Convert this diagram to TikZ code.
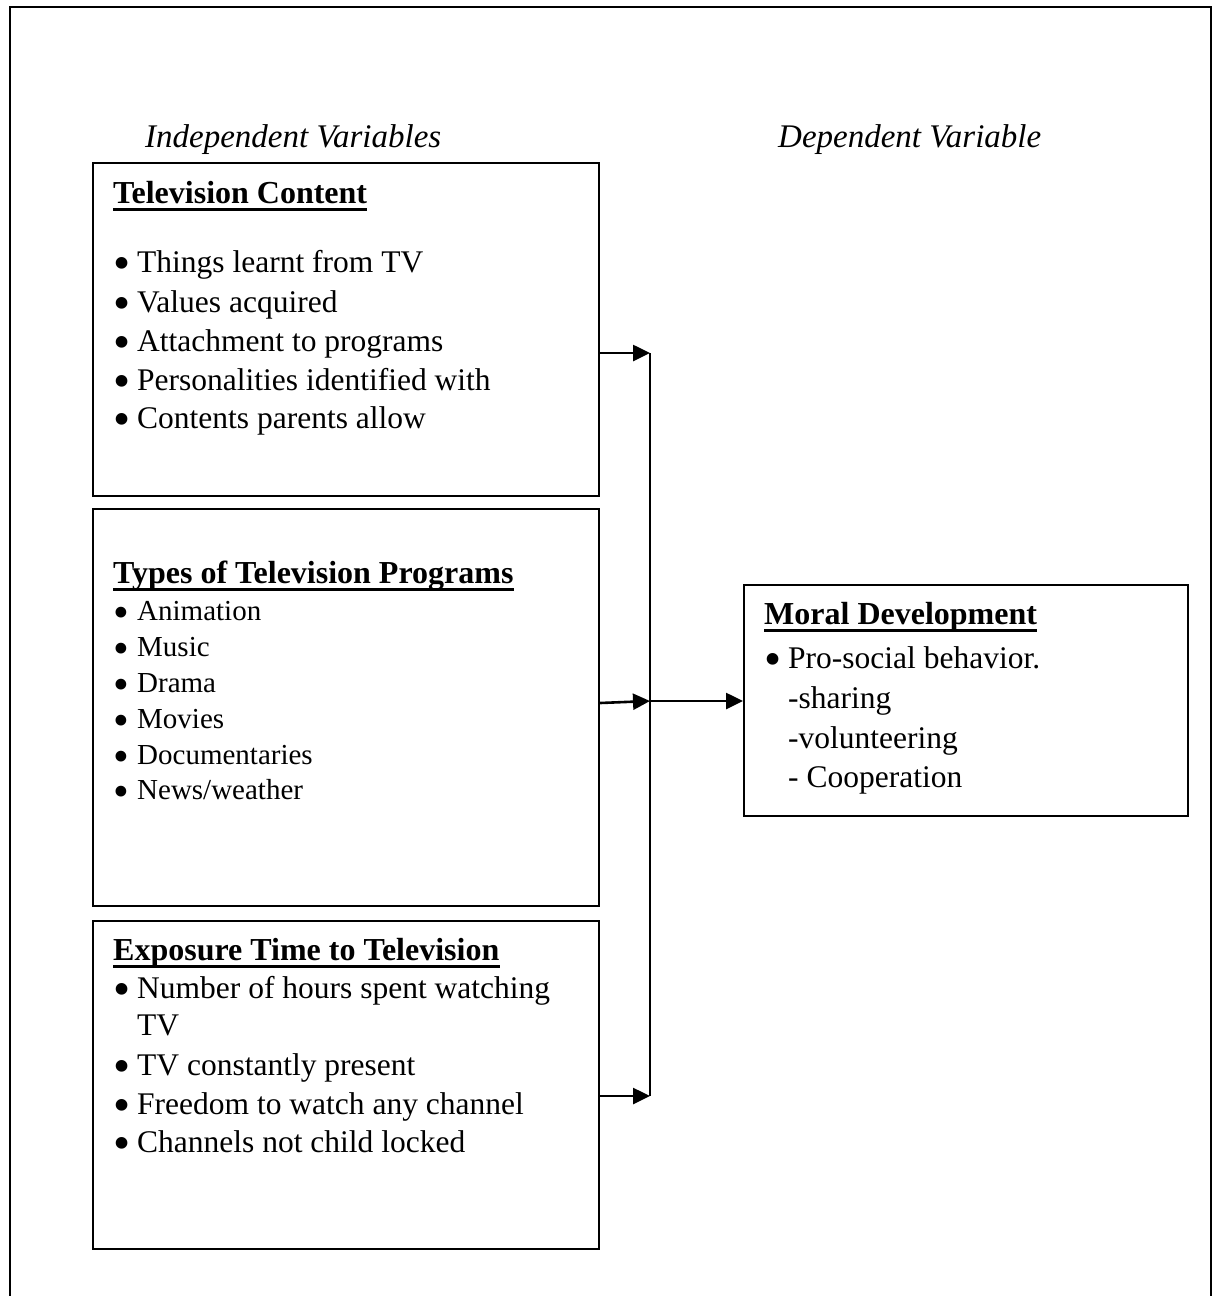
\documentclass[tikz,border=0pt]{standalone}
\usepackage{fontspec}
\setmainfont{Liberation Serif}
\usetikzlibrary{arrows.meta}
\newcommand{\bul}{\makebox[24pt][l]{\smash{\raisebox{-7.5pt}{\scalebox{1.55}{•}}}}}
\begin{document}
\begin{tikzpicture}[x=1pt,y=-1pt,
  box/.style={draw, line width=2.2pt, rectangle, inner sep=0, anchor=north west},
  txt/.style={anchor=base west, inner sep=0, font=\fontsize{31.5}{36}\selectfont},
  smalltxt/.style={anchor=base west, inner sep=0, font=\fontsize{29}{34}\selectfont},
  head/.style={anchor=base west, inner sep=0, font=\fontsize{32}{38}\selectfont\bfseries},
  var/.style={anchor=base west, inner sep=0, font=\fontsize{33}{38}\selectfont\itshape},
  uline/.style={line width=2.8pt},
  conn/.style={line width=2.4pt},
  arr/.style={line width=2.6pt, -{Triangle[length=17pt,width=16pt]}},
]
\useasboundingbox (0,0) rectangle (1217,1296);
% outer frame
\draw[line width=2.4pt] (10,1310) -- (10,7) -- (1211,7) -- (1211,1310);

% headers
\node[var] (iv) at (145,147) {Independent Variables};
\node[var] (dv) at (778,147) {Dependent Variable};

% boxes
\node[box, minimum width=506pt, minimum height=333pt] (b1) at (92,162) {};
\node[box, minimum width=506pt, minimum height=397pt] (b2) at (92,508) {};
\node[box, minimum width=506pt, minimum height=328pt] (b3) at (92,920) {};
\node[box, minimum width=444pt, minimum height=231pt] (bm) at (743,584) {};

% box 1
\node[head] (h1) at (113,203) {Television Content};
\draw[uline] ([yshift=-6.5pt]h1.base west) -- ([yshift=-6.5pt]h1.base east);
\node[txt] (t1a) at (113,272) {\bul Things learnt from TV};
\node[txt] (t1b) at (113,312) {\bul Values acquired};
\node[txt] (t1c) at (113,351) {\bul Attachment to programs};
\node[txt] (t1d) at (113,390) {\bul Personalities identified with};
\node[txt] (t1e) at (113,428) {\bul Contents parents allow};

% box 2
\node[head] (h2) at (113,583) {Types of Television Programs};
\draw[uline] ([yshift=-6.5pt]h2.base west) -- ([yshift=-6.5pt]h2.base east);
\node[smalltxt] (t2a) at (113,620) {\bul Animation};
\node[smalltxt] (t2b) at (113,656) {\bul Music};
\node[smalltxt] (t2c) at (113,692) {\bul Drama};
\node[smalltxt] (t2d) at (113,728) {\bul Movies};
\node[smalltxt] (t2e) at (113,764) {\bul Documentaries};
\node[smalltxt] (t2f) at (113,799) {\bul News/weather};

% box 3
\node[head] (h3) at (113,960) {Exposure Time to Television};
\draw[uline] ([yshift=-6.5pt]h3.base west) -- ([yshift=-6.5pt]h3.base east);
\node[txt] (t3a) at (113,998) {\bul Number of hours spent watching};
\node[txt] (t3b) at (137,1035) {TV};
\node[txt] (t3c) at (113,1075) {\bul TV constantly present};
\node[txt] (t3d) at (113,1114) {\bul Freedom to watch any channel};
\node[txt] (t3e) at (113,1152) {\bul Channels not child locked};

% moral box
\node[head] (hm) at (764,624) {Moral Development};
\draw[uline] ([yshift=-6.5pt]hm.base west) -- ([yshift=-6.5pt]hm.base east);
\node[txt] (tma) at (764,668) {\bul Pro-social behavior.};
\node[txt] (tmb) at (788,708) {-sharing};
\node[txt] (tmc) at (788,748) {-volunteering};
\node[txt] (tmd) at (788,787) {- Cooperation};

% connectors
\coordinate (j1) at (650,353);
\coordinate (j2) at (650,701);
\coordinate (j3) at (650,1096);
\draw[conn] (j1) -- (j3);
\draw[arr] (b1.east |- j1) -- (j1);
\draw[arr] ([yshift=-2pt]b2.east |- j2) -- (j2);
\draw[arr] (b3.east |- j3) -- (j3);
\draw[arr] (j2) -- (bm.west |- j2);
\end{tikzpicture}
\end{document}
